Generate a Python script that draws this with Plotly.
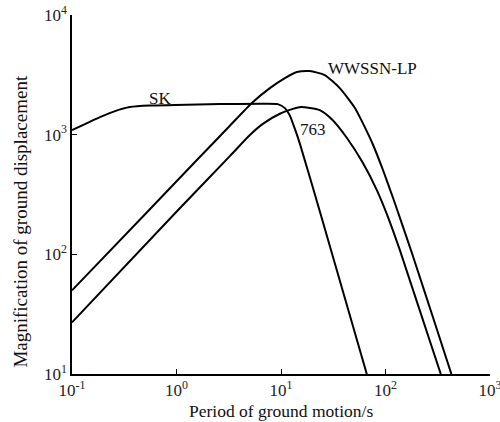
import math
import plotly.graph_objects as go

# Period of ground motion (s) and magnification values
sk_period = [0.1, 0.133, 0.185, 0.258, 0.358, 0.557, 0.966, 2.60, 7.0, 9.31, 10.9, 12.1, 13.5, 15.1, 24.0, 66.2]
sk_mag = [1092, 1225, 1400, 1573, 1700, 1750, 1766, 1800, 1816, 1800, 1667, 1456, 1133, 849, 215, 10]

wwssn_period = [0.1, 0.533, 1.67, 3.24, 5.26, 7.82, 10.9, 14.2, 18.8, 26.2, 36.5, 50.8, 59.2, 75.4, 94.0, 117, 146, 178, 282, 427]
wwssn_mag = [50, 229, 650, 1186, 1840, 2449, 2972, 3335, 3400, 3148, 2449, 1680, 1303, 836, 514, 303, 173, 104, 30.5, 10]

p763_period = [0.1, 1.01, 3.24, 5.04, 6.70, 9.75, 15.1, 23.5, 31.3, 42.6, 60.5, 82.4, 105, 137, 338]
p763_mag = [27, 229, 662, 993, 1230, 1496, 1698, 1603, 1321, 942, 585, 346, 208, 109, 10]

labels = ["SK", "WWSSN-LP", "763"]
label_period = [0.693, 75.5, 20.1]
label_mag = [2020, 3600, 1110]

font_family = "Liberation Serif"

fig = go.Figure()
for xs, ys in [(sk_period, sk_mag), (wwssn_period, wwssn_mag), (p763_period, p763_mag)]:
    fig.add_trace(go.Scatter(x=xs, y=ys, mode="lines",
                             line=dict(color="black", width=2, shape="spline", smoothing=0.6),
                             showlegend=False, hoverinfo="skip"))

for t, x, y in zip(labels, label_period, label_mag):
    fig.add_annotation(x=math.log10(x), y=math.log10(y), xref="x", yref="y", text=t, showarrow=False,
                       font=dict(family=font_family, size=17, color="#111"))

fig.add_annotation(x=0.5, y=-0.102, xref="paper", yref="paper", text="Period of ground motion/s",
                   showarrow=False, xanchor="center", yanchor="middle",
                   font=dict(family=font_family, size=17.5, color="#111"))
fig.add_annotation(x=-0.124, y=0.425, xref="paper", yref="paper", text="Magnification of ground displacement",
                   showarrow=False, textangle=-90, xanchor="center", yanchor="middle",
                   font=dict(family=font_family, size=19, color="#111"))

fig.update_layout(
    width=500, height=422,
    margin=dict(l=72, r=10, t=15, b=48, autoexpand=False),
    paper_bgcolor="white", plot_bgcolor="white",
    font=dict(family=font_family, size=17, color="#222"),
)
fig.update_xaxes(type="log", range=[-1, 3], automargin=False,
                 tickvals=[0.1, 1, 10, 100, 1000],
                 ticktext=["10<sup>-1</sup>", "10<sup>0</sup>", "10<sup>1</sup>", "10<sup>2</sup>", "10<sup>3</sup>"],
                 ticks="inside", ticklen=5, tickcolor="black", tickwidth=1.2,
                 ticklabeloverflow="allow",
                 showline=True, linecolor="black", linewidth=1.5,
                 showgrid=False, zeroline=False, mirror=False)
fig.update_yaxes(type="log", range=[1, 4], automargin=False,
                 tickvals=[10, 100, 1000, 10000],
                 ticktext=["10<sup>1</sup>", "10<sup>2</sup>", "10<sup>3</sup>", "10<sup>4</sup>"],
                 ticks="inside", ticklen=5, tickcolor="black", tickwidth=1.2,
                 ticklabeloverflow="allow",
                 showline=True, linecolor="black", linewidth=1.5,
                 showgrid=False, zeroline=False, mirror=False)

fig.write_html("out.html")
